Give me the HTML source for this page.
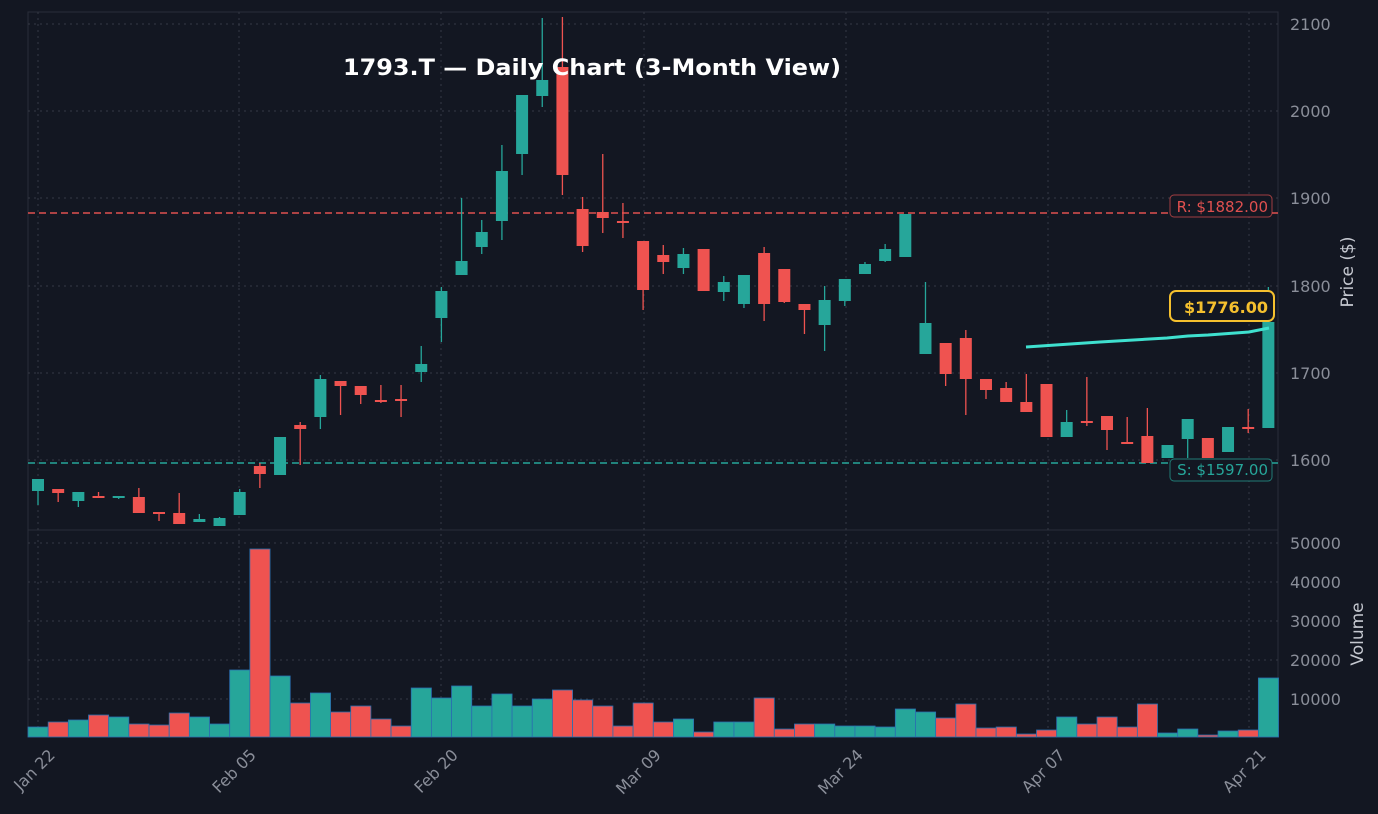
<!DOCTYPE html>
<html><head><meta charset="utf-8"><style>
html,body{margin:0;padding:0;background:#131722;}
svg{display:block;font-family:"DejaVu Sans","Liberation Sans",sans-serif;}
</style></head><body>
<svg id="c" width="1378" height="814" viewBox="0 0 1378 814" xmlns="http://www.w3.org/2000/svg">
<rect width="1378" height="814" fill="#131722"/>
<rect x="28" y="12" width="1250" height="725" fill="#131722" stroke="#2a2e39" stroke-width="1"/>
<line x1="28" y1="530" x2="1278" y2="530" stroke="#2a2e39"/>
<g stroke="#363a45" stroke-dasharray="2,4" stroke-width="1">
<line x1="28" y1="24" x2="1278" y2="24"/><line x1="28" y1="111" x2="1278" y2="111"/><line x1="28" y1="198" x2="1278" y2="198"/><line x1="28" y1="286" x2="1278" y2="286"/><line x1="28" y1="373" x2="1278" y2="373"/><line x1="28" y1="460" x2="1278" y2="460"/>
<line x1="28" y1="543" x2="1278" y2="543"/><line x1="28" y1="582" x2="1278" y2="582"/><line x1="28" y1="621" x2="1278" y2="621"/><line x1="28" y1="660" x2="1278" y2="660"/><line x1="28" y1="699" x2="1278" y2="699"/>
<line x1="38" y1="12" x2="38" y2="737"/><line x1="239" y1="12" x2="239" y2="737"/><line x1="441" y1="12" x2="441" y2="737"/><line x1="644" y1="12" x2="644" y2="737"/><line x1="846" y1="12" x2="846" y2="737"/><line x1="1048" y1="12" x2="1048" y2="737"/><line x1="1249" y1="12" x2="1249" y2="737"/>
</g>
<line x1="28" y1="213" x2="1278" y2="213" stroke="#e0504f" stroke-width="1.5" stroke-dasharray="7,4"/>
<line x1="28" y1="463" x2="1278" y2="463" stroke="#26a69a" stroke-width="1.5" stroke-dasharray="7,4"/>
<g id="cand"></g>
<g id="vol"></g>
<polyline points="1026,347 1100,342 1167,338 1188,336 1208,335 1249,332 1269,328" fill="none" stroke="#3fe0cf" stroke-width="3"/>
<text x="592" y="75" text-anchor="middle" fill="#ffffff" font-size="22" font-weight="bold" textLength="498" lengthAdjust="spacingAndGlyphs">1793.T — Daily Chart (3-Month View)</text>
<rect x="1170" y="195" width="102" height="22" rx="4" fill="#131722" stroke="#e0504f" stroke-opacity="0.7"/>
<text x="1268" y="212" text-anchor="end" fill="#e0504f" font-size="15">R: $1882.00</text>
<rect x="1170" y="459" width="102" height="22" rx="4" fill="#131722" stroke="#26a69a" stroke-opacity="0.7"/>
<text x="1268" y="475" text-anchor="end" fill="#26a69a" font-size="15">S: $1597.00</text>
<rect x="1170" y="291" width="104" height="30" rx="6" fill="#131722" stroke="#f5c02e" stroke-width="2"/>
<text x="1268" y="313" text-anchor="end" fill="#f5c02e" font-size="16" font-weight="bold">$1776.00</text>
<g fill="#8a8e99" font-size="16">
<text x="1290" y="30">2100</text><text x="1290" y="117">2000</text><text x="1290" y="204">1900</text><text x="1290" y="292">1800</text><text x="1290" y="379">1700</text><text x="1290" y="466">1600</text>
<text x="1290" y="549">50000</text><text x="1290" y="588">40000</text><text x="1290" y="627">30000</text><text x="1290" y="666">20000</text><text x="1290" y="705">10000</text>
</g>
<text transform="translate(1353,272) rotate(-90)" text-anchor="middle" fill="#c5c8d0" font-size="17">Price ($)</text>
<text transform="translate(1363,634) rotate(-90)" text-anchor="middle" fill="#c5c8d0" font-size="17">Volume</text>
<g fill="#8a8e99" font-size="16" text-anchor="end">
<text transform="translate(56,756) rotate(-45)">Jan 22</text>
<text transform="translate(257,756) rotate(-45)">Feb 05</text>
<text transform="translate(459,756) rotate(-45)">Feb 20</text>
<text transform="translate(662,756) rotate(-45)">Mar 09</text>
<text transform="translate(864,756) rotate(-45)">Mar 24</text>
<text transform="translate(1066,756) rotate(-45)">Apr 07</text>
<text transform="translate(1267,756) rotate(-45)">Apr 21</text>
</g>
</svg>
<script>
var C=[[1,479,505,479,491],[0,489,502,489,493],[1,492,507,492,501],[0,492,498,496,498],[1,496,499,496,498],[0,488,513,497,513],[0,512,521,512,514],[0,493,524,513,524],[1,514,522,519,522],[1,517,526,518,526],[1,489,515,492,515],[0,463,488,466,474],[1,437,475,437,475],[0,422,465,425,429],[1,375,429,379,417],[0,381,415,381,386],[0,386,404,386,395],[0,385,403,400,401],[0,385,417,399,400],[1,346,382,364,372],[1,287,342,291,318],[1,198,275,261,275],[1,220,254,232,247],[1,145,240,171,221],[1,95,175,95,154],[1,18,107,80,96],[0,17,195,67,175],[0,197,252,209,246],[0,154,233,212,218],[0,203,238,221,223],[0,241,310,241,290],[0,245,274,255,262],[1,248,274,254,268],[0,249,291,249,291],[1,276,301,282,292],[1,275,308,275,304],[0,247,321,253,304],[0,269,303,269,302],[0,304,334,304,310],[1,286,351,300,325],[1,279,306,279,301],[1,262,274,264,274],[1,244,262,249,261],[1,214,257,214,257],[1,282,354,323,354],[0,343,386,343,374],[0,330,415,338,379],[0,379,399,379,390],[0,382,402,388,402],[0,374,412,402,412],[0,384,437,384,437],[1,410,437,422,437],[0,377,426,421,423],[0,416,450,416,430],[0,417,443,442,443],[0,408,463,436,463],[1,445,458,445,458],[1,419,458,419,439],[0,438,458,438,458],[1,427,452,427,452],[0,409,433,427,429],[1,287,428,322,428]];
var V=[727,722,720,715,717,724,725,713,717,724,670,549,676,703,693,712,706,719,726,688,698,686,706,694,706,699,690,700,706,726,703,722,719,732,722,722,698,729,724,724,726,726,727,709,712,718,704,728,727,734,730,717,724,717,727,704,733,729,735,731,730,678];
var ns="http://www.w3.org/2000/svg",cg=document.getElementById("cand"),vg=document.getElementById("vol");
function el(t,a,p){var e=document.createElementNS(ns,t);for(var k in a)e.setAttribute(k,a[k]);p.appendChild(e);}
for(var i=0;i<C.length;i++){var x=38+20.17*i,c=C[i],col=c[0]?"#26a69a":"#ef5350";
el("line",{x1:x,x2:x,y1:c[1],y2:c[2],stroke:col,"stroke-width":1.3},cg);
el("rect",{x:x-6,y:c[3],width:12,height:Math.max(2,c[4]-c[3]),fill:col},cg);
el("rect",{x:x-10,y:V[i],width:20.17,height:737-V[i],fill:col,stroke:"#2a6fb0","stroke-width":0.8},vg);}
</script>
</body></html>
